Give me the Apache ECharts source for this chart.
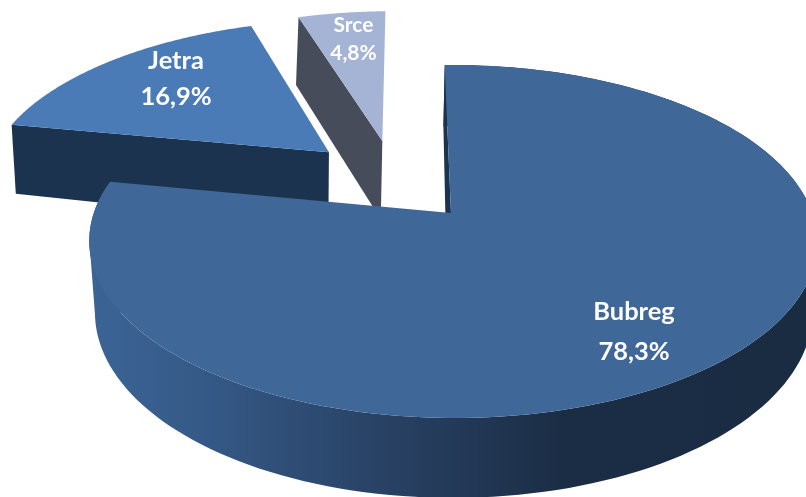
<!DOCTYPE html>
<html>
<head>
<meta charset="utf-8">
<style>html,body{margin:0;padding:0;background:#fff}#c{width:806px;height:497px}</style>
<script src="https://cdn.jsdelivr.net/npm/echarts@6/dist/echarts.min.js"></script>
</head>
<body>
<div id="c"></div>
<script>
// Data
var categories = ['Bubreg', 'Jetra', 'Srce'];
var shares = [78.3, 16.9, 4.8];

// Style per slice
var topColors = ['#3f6899', '#4a7bb6', '#a5b4d5'];
var wallColors = ['#1c3350', '#1c3350', '#474c5b'];
var explodeU = [0, -0.36, -0.204];
var explodeV = [0, 0.375, 0.45];
var wallShiftY = [0, 3, 8];
var wallShiftX = [0, -7, -5];
var labelX = [634, 176, 353.5];
var labelY = [332, 79, 39];
var labelSize = [25.5, 25.5, 21];
var labelLine = [40, 36, 28];
var drawOrder = [2, 1, 0];
var firstSliceAngle = -1; // degrees clockwise from 12 o'clock

// Perspective planes of the disc (top face and bottom face)
var topPlane = {ax: 451, ay: 213, R: 359.2, S: 171.9, s: -1, k: 0.1614, m: -0.0055};
var botPlane = {ax: 447, ay: 282, R: 354, S: 181, s: 2, k: 0.1614, m: -0.0196};

function project(p, u, v, dx, dy) {
  var w = 1 + p.k * v + p.m * u;
  return [p.ax + (p.R * u + p.s * v) / w + (dx || 0), p.ay - p.S * v / w + (dy || 0)];
}

var total = shares.reduce(function (a, b) { return a + b; }, 0);
var startAngle = [];
shares.reduce(function (acc, v, i) { startAngle[i] = acc; return acc + v / total * Math.PI * 2; }, firstSliceAngle * Math.PI / 180);

function arc(p, i, a0, a1, dx, dy) {
  var pts = [], n = 160;
  for (var j = 0; j <= n; j++) {
    var a = a0 + (a1 - a0) * j / n;
    pts.push(project(p, Math.sin(a) + explodeU[i], Math.cos(a) + explodeV[i], dx, dy));
  }
  return pts;
}

function leftmost(pts) {
  return pts.reduce(function (best, q) { return q[0] < best[0] ? q : best; }, pts[0]);
}

var mainWallFill = new echarts.graphic.LinearGradient(90, 0, 806, 0, [
  {offset: 0, color: '#3b6496'},
  {offset: 0.15, color: '#355a88'},
  {offset: 0.38, color: '#2a4468'},
  {offset: 0.66, color: '#1b2d45'},
  {offset: 1, color: '#1a2c42'}
], true);

function poly(points, fill, z) {
  return {type: 'polygon', shape: {points: points}, style: {fill: fill}, z2: z, silent: true};
}

function renderSlice(params, api) {
  var i = drawOrder[params.dataIndex];
  var a0 = startAngle[i];
  var a1 = a0 + shares[i] / total * Math.PI * 2;
  var children = [];
  var apexT = project(topPlane, explodeU[i], explodeV[i]);
  var apexB = project(botPlane, explodeU[i], explodeV[i], 0, wallShiftY[i] + 5);
  var topArc = arc(topPlane, i, a0, a1);
  var botArc = arc(botPlane, i, a0, a1, wallShiftX[i], wallShiftY[i]);

  if (i === 0) {
    // outer rim, joined along the left silhouette
    children.push(poly(topArc.concat(botArc.slice().reverse()), mainWallFill, 1));
    children.push(poly([leftmost(topArc), leftmost(botArc), apexB], mainWallFill, 1));
    // sliver of the cut face at the 12 o'clock edge
    children.push(poly([apexT, topArc[0], botArc[0], apexB], wallColors[0], 2));
  } else {
    // cut face along the front edge of the exploded slice
    children.push(poly([apexT, topArc[0], botArc[0], apexB], wallColors[i], 1));
  }
  children.push(poly([apexT].concat(topArc), topColors[i], 3));
  children.push({
    type: 'text', z2: 10, silent: true,
    style: {
      x: labelX[i], y: labelY[i],
      text: categories[i] + '\n' + String(shares[i]).replace('.', ',') + '%',
      fill: '#fdfdfd', align: 'center', verticalAlign: 'middle',
      font: 'bold ' + labelSize[i] + 'px Lato, "Open Sans", sans-serif',
      lineHeight: labelLine[i]
    }
  });
  return {type: 'group', children: children};
}

var chart = echarts.init(document.getElementById('c'), null, {renderer: 'canvas'});
chart.setOption({
  backgroundColor: '#ffffff',
  animation: false,
  series: [{
    type: 'custom',
    coordinateSystem: 'none',
    clip: false,
    silent: true,
    data: drawOrder.map(function (i) { return {name: categories[i], value: shares[i]}; }),
    renderItem: renderSlice
  }]
});
</script>
</body>
</html>
